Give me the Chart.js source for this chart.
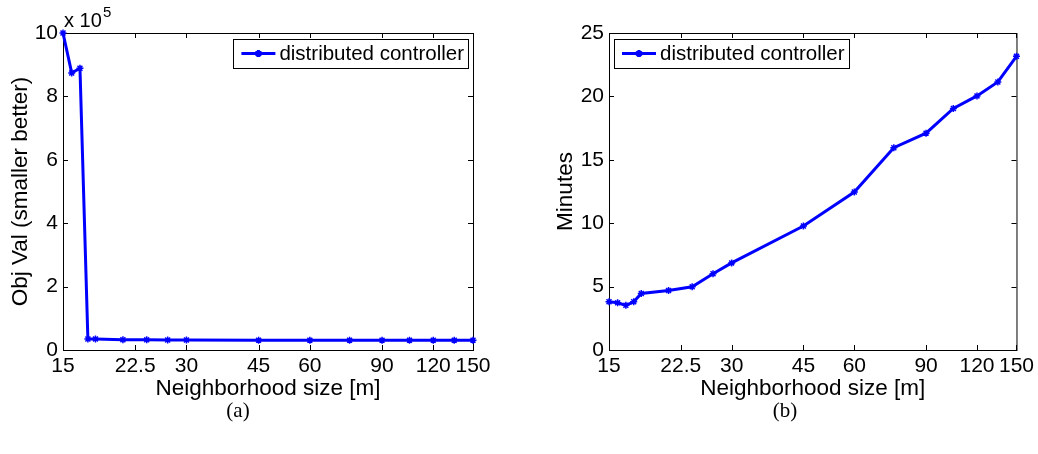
<!DOCTYPE html>
<html>
<head>
<meta charset="utf-8">
<script src="https://cdn.jsdelivr.net/npm/chart.js@4/dist/chart.umd.min.js"></script>
<style>
  body { margin: 0; background: #fff; width: 1038px; height: 454px; position: relative; overflow: hidden; }
  canvas { position: absolute; top: 0; }
  .cap { position: absolute; top: 398px; font: 21px "Liberation Serif", "Times New Roman", serif; color: #000; transform: translateX(-50%); }
</style>
</head>
<body>
<canvas id="objChart" width="520" height="410" style="left:0"></canvas>
<canvas id="timeChart" width="493" height="410" style="left:545px"></canvas>
<div class="cap" style="left:238px">(a)</div>
<div class="cap" style="left:785px">(b)</div>
<script>
// neighborhood sizes [m] (log x axis)
const neighborhood = [15, 15.75, 16.5, 17.25, 18, 21, 24, 27, 30, 45, 60, 75, 90, 105, 120, 135, 150];
const xTicks = [15, 22.5, 30, 45, 60, 90, 120, 150];
// (a) objective value
const objVal = [1000000, 874000, 889000, 34500, 35000, 32500, 32000, 31500, 31500, 31000, 31000, 31000, 31000, 31000, 31000, 31000, 31000];
// (b) run time in minutes
const minutes = [3.80, 3.72, 3.52, 3.80, 4.46, 4.70, 4.98, 6.01, 6.87, 9.78, 12.46, 15.95, 17.10, 19.05, 20.04, 21.14, 23.16];
const seriesLabel = 'distributed controller';

const FONT = '"Liberation Sans", Arial, Helvetica, sans-serif';
const BLUE = '#0000ff';

// matlab style box with inward ticks
const boxPlugin = {
  id: 'matlabBox',
  beforeDatasetsDraw(chart) {
    const { ctx, chartArea: a, scales: { x, y } } = chart;
    ctx.save();
    ctx.strokeStyle = '#000';
    ctx.lineWidth = 1;
    ctx.strokeRect(a.left + 0.5, a.top + 0.5, a.right - a.left, a.bottom - a.top);
    ctx.beginPath();
    x.ticks.forEach((t) => {
      const px = Math.round(x.getPixelForValue(t.value)) + 0.5;
      ctx.moveTo(px, a.bottom); ctx.lineTo(px, a.bottom - 5);
      ctx.moveTo(px, a.top); ctx.lineTo(px, a.top + 5);
    });
    y.ticks.forEach((t) => {
      const py = Math.round(y.getPixelForValue(t.value)) + 0.5;
      ctx.moveTo(a.left, py); ctx.lineTo(a.left + 5, py);
      ctx.moveTo(a.right, py); ctx.lineTo(a.right - 5, py);
    });
    ctx.stroke();
    ctx.restore();
  },
  afterDraw(chart) {
    const opts = chart.options.plugins.matlabBox || {};
    const { ctx, chartArea: a } = chart;
    ctx.save();
    ctx.font = '20.5px ' + FONT;
    const tw = ctx.measureText(seriesLabel).width;
    const w = 50 + tw, h = 29;
    const left = opts.side === 'right' ? a.right - 5 - w : a.left + 5;
    const top = a.top + 6;
    ctx.fillStyle = '#fff';
    ctx.fillRect(left, top, w, h);
    ctx.strokeStyle = '#000';
    ctx.lineWidth = 1;
    ctx.strokeRect(Math.round(left) + 0.5, top + 0.5, Math.round(w), h);
    const my = top + h / 2;
    ctx.strokeStyle = BLUE;
    ctx.lineWidth = 3;
    ctx.beginPath();
    ctx.moveTo(left + 8, my); ctx.lineTo(left + 42, my);
    ctx.stroke();
    Chart.helpers.drawPoint(ctx, { pointStyle: 'star', radius: 3.5, borderWidth: 1.5 }, left + 25, my);
    ctx.fillStyle = '#000';
    ctx.textBaseline = 'middle';
    ctx.fillText(seriesLabel, left + 46, my + 1);
    if (opts.exponent) {
      ctx.font = '20px ' + FONT;
      ctx.textBaseline = 'alphabetic';
      ctx.fillText('x 10', a.left + 1, a.top - 6);
      ctx.font = '15px ' + FONT;
      ctx.fillText('5', a.left + 40, a.top - 16);
    }
    ctx.restore();
  }
};

function makeChart(id, data, yOpts, xAxisWidth, padRight, pluginOpts, yTitle) {
  new Chart(document.getElementById(id), {
    type: 'line',
    data: {
      labels: neighborhood,
      datasets: [{
        label: seriesLabel,
        data: neighborhood.map((n, i) => ({ x: n, y: data[i] })),
        borderColor: BLUE,
        backgroundColor: BLUE,
        borderWidth: 3,
        pointStyle: 'star',
        pointRadius: 3.5,
        pointBorderWidth: 1.5,
        pointBorderColor: BLUE,
        tension: 0,
        clip: false,
      }],
    },
    options: {
      responsive: false,
      animation: false,
      layout: { padding: { top: 33, right: padRight, left: 0, bottom: 0 } },
      plugins: { legend: { display: false }, tooltip: { enabled: false }, matlabBox: pluginOpts },
      scales: {
        x: {
          type: 'logarithmic', min: 15, max: 150,
          grid: { display: false, drawTicks: false },
          border: { display: false },
          afterBuildTicks: (s) => { s.ticks = xTicks.map((v) => ({ value: v })); },
          afterFit: (s) => { s.height = 60; },
          ticks: { color: '#000', padding: 4, maxRotation: 0, autoSkip: false, font: { family: FONT, size: 21 }, callback: (v) => String(v) },
          title: { display: true, text: 'Neighborhood size [m]', color: '#000', padding: { top: 0, bottom: 8 }, font: { family: FONT, size: 22.5 } },
        },
        y: Object.assign({
          grid: { display: false, drawTicks: false },
          border: { display: false },
          afterFit: (s) => { s.width = xAxisWidth; },
          title: { display: true, text: yTitle, color: '#000', padding: { top: 7, bottom: 0 }, font: { family: FONT, size: 22.5 } },
        }, yOpts),
      },
    },
    plugins: [boxPlugin],
  });
}

makeChart('objChart', objVal, {
  min: 0, max: 1000000,
  ticks: { stepSize: 200000, color: '#000', padding: 5, font: { family: FONT, size: 21 }, callback: (v) => String(v / 100000) },
}, 63, 47, { side: 'right', exponent: true }, 'Obj Val (smaller better)');

makeChart('timeChart', minutes, {
  min: 0, max: 25,
  ticks: { stepSize: 5, color: '#000', padding: 5, font: { family: FONT, size: 21 } },
}, 64, 19, { side: 'left' }, 'Minutes');
</script>
</body>
</html>
